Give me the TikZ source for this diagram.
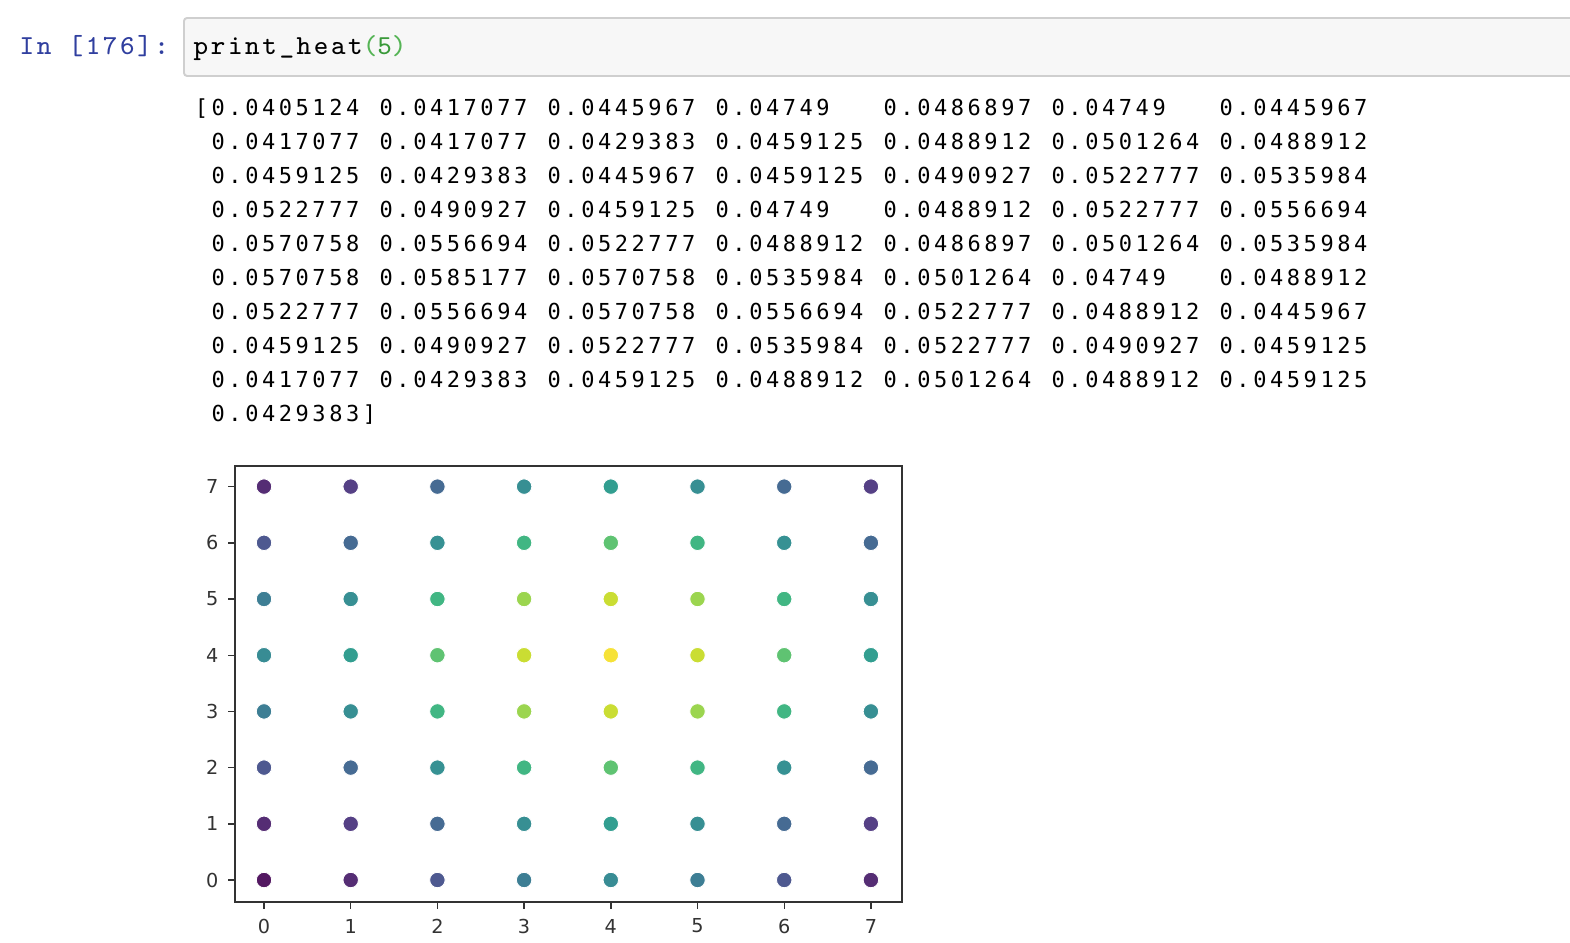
\documentclass[tikz,border=0pt]{standalone}
\usepackage{fontspec}
\usetikzlibrary{positioning}
\newfontfamily\outfont[LetterSpace=16.1]{DejaVu Sans Mono}
\newfontfamily\tickfont{DejaVu Sans}
\newfontfamily\codefont[LetterSpace=9.5]{Latin Modern Mono}
\definecolor{promptblue}{HTML}{303F9F}
\definecolor{cellbg}{HTML}{F7F7F7}
\definecolor{cellborder}{HTML}{CFCFCF}
\definecolor{numgreen}{HTML}{3A9A3A}
\definecolor{parengreen}{HTML}{55B455}
\definecolor{axisgray}{HTML}{333333}
\definecolor{heat0}{HTML}{440154}
\definecolor{heat1}{HTML}{47196A}
\definecolor{heat2}{HTML}{472F7D}
\definecolor{heat3}{HTML}{3E4B89}
\definecolor{heat4}{HTML}{355F8D}
\definecolor{heat5}{HTML}{2B758E}
\definecolor{heat6}{HTML}{25858E}
\definecolor{heat7}{HTML}{24888D}
\definecolor{heat8}{HTML}{238B8D}
\definecolor{heat9}{HTML}{1F998A}
\definecolor{heat10}{HTML}{30B57B}
\definecolor{heat11}{HTML}{52C468}
\definecolor{heat12}{HTML}{96D840}
\definecolor{heat13}{HTML}{CBE120}
\definecolor{heat14}{HTML}{FDE725}
\tikzstyle{code} = [anchor=base west, inner sep=0, font=\codefont\fontsize{7.8}{9}\selectfont]
\tikzstyle{cell} = [draw=cellborder, fill=cellbg, line width=0.55pt, rounded corners=0.9pt, anchor=north west, minimum width=14cm, minimum height=0.58cm]
\tikzstyle{outval} = [anchor=base west, inner sep=0, font=\outfont\fontsize{6.26}{7.5}\selectfont]
\tikzstyle{dot} = [circle, draw=white, line width=0.25pt, minimum size=4.4pt, inner sep=0]
\tikzstyle{frame} = [draw=axisgray, line width=0.55pt]
\tikzstyle{tick} = [draw=axisgray, line width=0.4pt]
\tikzstyle{ticklabel} = [inner sep=0, text=axisgray, font=\tickfont\fontsize{5.47}{6.5}\selectfont]

\begin{document}
\begin{tikzpicture}[x=0.01cm, y=-0.01cm]

\useasboundingbox [fill=white] (0,0) rectangle (1570,942);

\node [code, text=promptblue] (prompt) at (19,54) {In [176]:};
\node [cell] (incell) at (183,17) {};
\node [code] (call) at (193,54) {print\_heat\textcolor{parengreen}{(}\textcolor{numgreen}{5}\textcolor{parengreen}{)}};

\node [outval] (lbrack) at (194.2,115) {[};
\foreach \vals [count=\r from 0] in {%
{0.0405124,0.0417077,0.0445967,0.04749,0.0486897,0.04749,0.0445967},%
{0.0417077,0.0417077,0.0429383,0.0459125,0.0488912,0.0501264,0.0488912},%
{0.0459125,0.0429383,0.0445967,0.0459125,0.0490927,0.0522777,0.0535984},%
{0.0522777,0.0490927,0.0459125,0.04749,0.0488912,0.0522777,0.0556694},%
{0.0570758,0.0556694,0.0522777,0.0488912,0.0486897,0.0501264,0.0535984},%
{0.0570758,0.0585177,0.0570758,0.0535984,0.0501264,0.04749,0.0488912},%
{0.0522777,0.0556694,0.0570758,0.0556694,0.0522777,0.0488912,0.0445967},%
{0.0459125,0.0490927,0.0522777,0.0535984,0.0522777,0.0490927,0.0459125},%
{0.0417077,0.0429383,0.0459125,0.0488912,0.0501264,0.0488912,0.0459125},%
{0.0429383}}
  \foreach \v [count=\c from 0] in \vals
    \node [outval] (out-\r-\c) at ({211+168*\c},{115+34*\r}) {\v};
\node [outval] (rbrack) at (362.2,421) {]};

\draw [frame] (235,466) rectangle (902,902);
\foreach \t in {0,...,7} {
  \draw [tick] (228,{880-56.2*\t}) -- (235,{880-56.2*\t});
  \node [ticklabel, anchor=east] (ylab-\t) at (219,{880-56.2*\t}) {\t};
  \draw [tick] ({264+86.7*\t},902) -- ({264+86.7*\t},909);
  \node [ticklabel] (xlab-\t) at ({264+86.7*\t},926) {\t};
}

\foreach \row [count=\x from 0] in {{0,1,3,5,6,5,3,1},{1,2,4,7,9,7,4,2},{3,4,8,10,11,10,8,4},{5,7,10,12,13,12,10,7},{6,9,11,13,14,13,11,9},{5,7,10,12,13,12,10,7},{3,4,8,10,11,10,8,4},{1,2,4,7,9,7,4,2}}
  \foreach \k [count=\y from 0] in \row
    \node [dot, fill=heat\k!88!lightgray] (dot-\x-\y) at ({264+86.7*\x},{880-56.2*\y}) {};

\end{tikzpicture}
\end{document}
